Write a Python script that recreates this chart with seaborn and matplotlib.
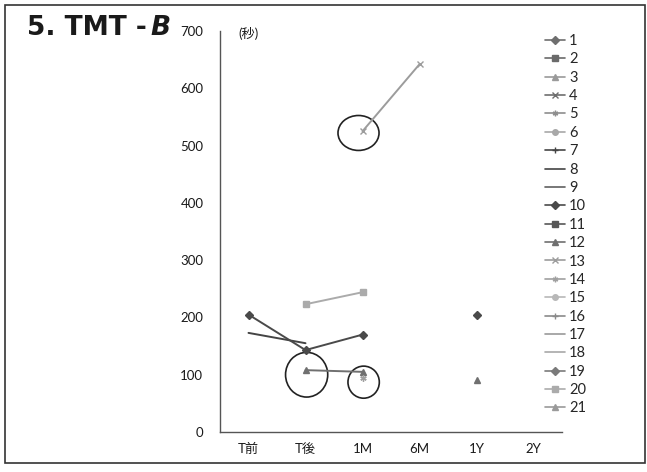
import numpy as np
import pandas as pd
import matplotlib
matplotlib.use("Agg")
import matplotlib.pyplot as plt
from matplotlib.lines import Line2D
from matplotlib.patches import Ellipse, Rectangle
import seaborn as sns

nan = np.nan

# Time points on the x axis
times = ["T前", "T後", "1M", "6M", "1Y", "2Y"]

# TMT-B completion time (seconds) per subject; subjects without values are omitted
s8 = [173, 155, nan, nan, nan, nan]
s10 = [205, 143, 170, nan, 205, nan]
s12 = [nan, 108, 105, nan, 91, nan]
s13 = [nan, nan, 525, 642, nan, nan]
s14 = [nan, nan, 94, nan, nan, nan]
s20 = [nan, 223, 244, nan, nan, nan]

series_values = {8: s8, 10: s10, 12: s12, 13: s13, 14: s14, 20: s20}
subjects = list(range(1, 22))

# Marker and gray shade for each subject (Excel-like cycle, printed in grayscale)
asterisk = (6, 2, 0)
marker_cycle = ["D", "s", "^", "x", asterisk, "o", "+", "None", "None"]
grays = ["#6e6e6e", "#6a6a6a", "#9a9a9a", "#6e6e6e", "#8e8e8e", "#a8a8a8",
         "#454545", "#444444", "#606060", "#4a4a4a", "#575757", "#707070",
         "#9c9c9c", "#a0a0a0", "#b8b8b8", "#8a8a8a", "#9a9a9a", "#a8a8a8",
         "#7a7a7a", "#ababab", "#9a9a9a"]

sns.set_theme(style="white")
plt.rcParams["font.family"] = ["Lato", "Noto Sans CJK JP", "DejaVu Sans"]

fig = plt.figure(figsize=(6.47, 4.72), dpi=100)
ax = fig.add_axes([220 / 647, 1 - 432 / 472, (562 - 220) / 647, (432 - 31) / 472])

# Long table: one row per measured value, segments split at gaps
rows = []
for subj, vals in series_values.items():
    seg = 0
    prev = False
    for i, v in enumerate(vals):
        if np.isnan(v):
            if prev:
                seg += 1
            prev = False
            continue
        rows.append({"subject": subj, "pos": i, "value": v, "seg": f"{subj}-{seg}"})
        prev = True
df = pd.DataFrame(rows)

for seg_id, part in df.groupby("seg", sort=False):
    subj = int(part["subject"].iloc[0])
    k = subj - 1
    sns.lineplot(data=part, x="pos", y="value", ax=ax, color=grays[k],
                 marker=marker_cycle[k % 9], markersize=4.5, linewidth=1.4,
                 markeredgecolor=grays[k], markeredgewidth=1.0,
                 sort=True, legend=False, estimator=None)

# Hand-drawn style circles marking notable values
for (cx, cy, w, h) in [(1.02, 100, 0.74, 78), (2.02, 87, 0.55, 56), (1.93, 522, 0.72, 61)]:
    ax.add_patch(Ellipse((cx, cy), w, h, facecolor="none", edgecolor="#222222", linewidth=1.2))

ax.set_xlim(-0.5, 5.5)
ax.set_ylim(0, 700)
ax.set_xticks(range(len(times)))
ax.set_xticklabels(times)
ax.set_yticks(range(0, 701, 100))
ax.set_xlabel("")
ax.set_ylabel("")
ax.tick_params(axis="both", length=0, labelsize=9.5, colors="#1a1a1a")
ax.tick_params(axis="y", pad=12)
ax.tick_params(axis="x", pad=8)
for side in ["top", "right"]:
    ax.spines[side].set_visible(False)
for side in ["left", "bottom"]:
    ax.spines[side].set_color("#555555")
    ax.spines[side].set_linewidth(1.0)

ax.text(0.055, 0.995, "(秒)", transform=ax.transAxes, fontsize=9.5, ha="left", va="center",
        color="#1a1a1a")

# Legend with every subject
handles = []
for subj in subjects:
    k = subj - 1
    handles.append(Line2D([], [], color=grays[k], marker=marker_cycle[k % 9], markersize=4,
                          linewidth=1.2, markeredgecolor=grays[k]))
fig.legend(handles, [str(s) for s in subjects], loc="upper left",
           bbox_to_anchor=(545 / 647, 1 - 34 / 472), frameon=False, fontsize=10.5,
           handlelength=1.4, handletextpad=0.25, labelspacing=0.3, borderpad=0,
           borderaxespad=0)

# Heading: upright bold part followed by a slanted "B"
title = fig.text(27 / 647, 1 - 28 / 472, "5. TMT -", fontsize=19, fontweight="heavy",
                 family="DejaVu Sans", ha="left", va="center", color="#1a1a1a")
fig.canvas.draw()
bb = title.get_window_extent()
fig.text(bb.x1 / fig.bbox.width + 4 / 647, 1 - 28 / 472, "B", fontsize=19, fontweight="heavy",
         fontstyle="italic", family="DejaVu Sans", ha="left", va="center", color="#1a1a1a")

fig.add_artist(Rectangle((5 / 647, 1 - 463 / 472), 640 / 647, 458 / 472,
                         transform=fig.transFigure, fill=False, edgecolor="#333333",
                         linewidth=1.2))

fig.savefig("out.png", dpi=100)
